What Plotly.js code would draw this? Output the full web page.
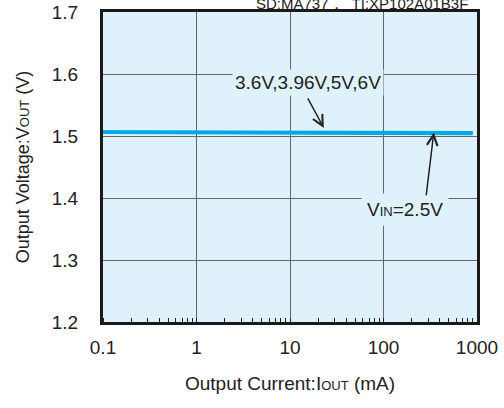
<!DOCTYPE html>
<html><head><meta charset="utf-8">
<script src="https://cdn.plot.ly/plotly-3.0.1.min.js"></script>
<style>html,body{margin:0;padding:0;background:#fff}#chart{width:504px;height:408px}</style>
</head><body><div id="chart"></div>
<script>
var currentMA = [0.1, 0.3, 1, 3, 10, 30, 100, 300, 900];
var voutHighVin = [1.5066, 1.5066, 1.5065, 1.5064, 1.5062, 1.5060, 1.5058, 1.5055, 1.5052];
var voutVin25 = [1.5062, 1.5061, 1.5059, 1.5057, 1.5055, 1.5053, 1.5050, 1.5046, 1.5042];
var xTickVals = [0.1, 1, 10, 100, 1000];
var xTickText = ['0.1', '1', '10', '100', '1000'];
var yTickVals = [1.2, 1.3, 1.4, 1.5, 1.6, 1.7];
var yTickText = ['1.2', '1.3', '1.4', '1.5', '1.6', '1.7'];

var FONT = 'Liberation Sans, Arial, Helvetica, sans-serif';
var BLUE = '#00a9e6';

var traces = [
  {x: currentMA, y: voutHighVin, mode: 'lines', name: '3.6V,3.96V,5V,6V', line: {color: BLUE, width: 3.5}},
  {x: currentMA, y: voutVin25, mode: 'lines', name: 'VIN=2.5V', line: {color: BLUE, width: 3.5}}
];

var layout = {
  width: 504, height: 408,
  margin: {l: 103, r: 27, t: 12, b: 86},
  paper_bgcolor: '#ffffff',
  plot_bgcolor: '#dff1fa',
  showlegend: false,
  font: {family: FONT, color: '#222', size: 18},
  xaxis: {
    type: 'log', range: [-1, 3],
    tickvals: xTickVals, ticktext: xTickText,
    ticks: '', showgrid: true, gridcolor: '#666', gridwidth: 1,
    showline: true, linecolor: '#1a1a1a', linewidth: 3, mirror: true,
    zeroline: false,
    tickfont: {size: 19, color: '#222'},
    ticklabelstandoff: 6,
    minor: {ticks: 'inside', ticklen: 4, tickwidth: 1, tickcolor: '#222', showgrid: false, dtick: 'D1'},
    title: {text: 'Output Current:I<span style="font-size:13px">OUT</span> (mA)', font: {size: 19, color: '#222'}, standoff: 20}
  },
  yaxis: {
    range: [1.2, 1.7],
    tickvals: yTickVals, ticktext: yTickText,
    ticks: '', showgrid: true, gridcolor: '#666', gridwidth: 1,
    showline: true, linecolor: '#1a1a1a', linewidth: 3, mirror: true,
    zeroline: false,
    tickfont: {size: 19, color: '#222'},
    ticklabelstandoff: 18,
    title: {text: 'Output Voltage:V<span style="font-size:13px">OUT</span> (V)', font: {size: 18, color: '#222'}, standoff: 18}
  },
  annotations: [
    {xref: 'paper', yref: 'paper', x: 0.6925, y: 1, yanchor: 'bottom', xanchor: 'center', yshift: -2,
     text: 'SD:MA737，  TI:XP102A01B3F', showarrow: false, font: {size: 15, color: '#222'}},
    {x: Math.log10(15.6), y: 1.587, text: '3.6V,3.96V,5V,6V', showarrow: false,
     bgcolor: '#dff1fa', borderpad: 2, font: {size: 19, color: '#222'}},
    {x: Math.log10(23), y: 1.513, ax: Math.log10(15.2), ay: 1.563, axref: 'x', ayref: 'y',
     text: '', showarrow: true, arrowhead: 5, arrowsize: 1.4, arrowwidth: 1.5, arrowcolor: '#222'},
    {x: Math.log10(170), y: 1.381, text: 'V<span style="font-size:13px">IN</span>=2.5V', showarrow: false,
     bgcolor: '#dff1fa', borderpad: 5, font: {size: 19, color: '#222'}},
    {x: Math.log10(345), y: 1.5055, ax: Math.log10(285), ay: 1.402, axref: 'x', ayref: 'y',
     text: '', showarrow: true, arrowhead: 5, arrowsize: 1.4, arrowwidth: 1.5, arrowcolor: '#222'}
  ]
};

Plotly.newPlot('chart', traces, layout, {displayModeBar: false, staticPlot: true});
</script>
</body></html>
